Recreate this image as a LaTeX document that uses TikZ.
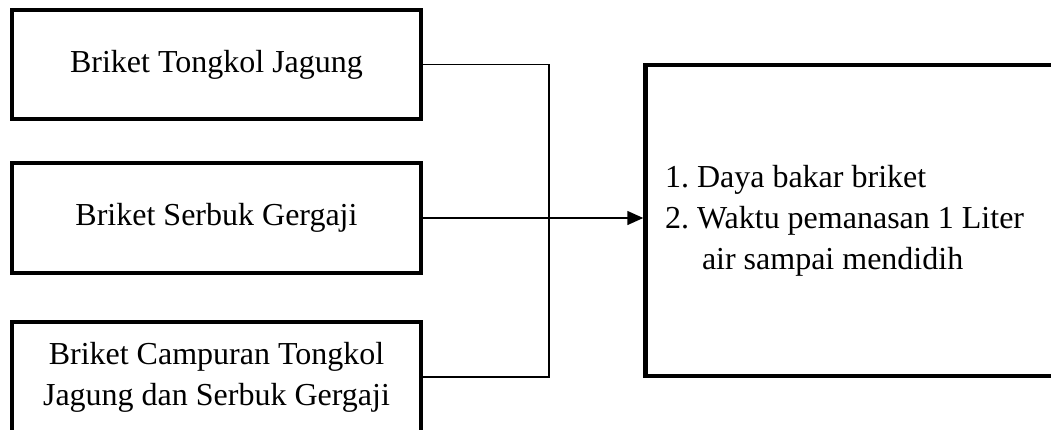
\documentclass[tikz,border=0pt]{standalone}
\usepackage{fontspec}
\setmainfont{Liberation Serif}
\usetikzlibrary{arrows.meta}
\begin{document}
\begin{tikzpicture}[x=1pt,y=-1pt,
  box/.style={draw, line width=4.5pt, rectangle, minimum width=409pt, minimum height=109pt, inner sep=0pt, align=center, font=\fontsize{32}{41}\selectfont\frenchspacing},
  conn/.style={line width=1.5pt},
  arr/.style={line width=1.5pt, -{Triangle[length=16pt,width=14pt]}}]
\clip (0,0) rectangle (1051,429);
\fill[white] (0,0) rectangle (1051,429);
\node[box] (b1) at (216.5,64.5) {Briket Tongkol Jagung};
\node[box, minimum height=110pt] (b2) at (216.5,218) {Briket Serbuk Gergaji};
\node[box, minimum height=110pt] (b3) at (216.5,377) {Briket Campuran Tongkol\\Jagung dan Serbuk Gergaji};
\node[draw, line width=4.5pt, rectangle, minimum height=311pt, minimum width=414.5pt, inner xsep=19.5pt, inner ysep=0pt, font=\fontsize{32}{41}\selectfont\frenchspacing] (out) at (852.75,220.5)
  {\makebox[375.5pt][l]{\begin{tabular}{@{}l@{}}1. Daya bakar briket\\2. Waktu pemanasan 1 Liter\\\hspace*{37pt}air sampai mendidih\end{tabular}}};
\coordinate (j) at (549,0);
\draw[conn] (b1.east) -- (b1.east -| j) -- (b3.east -| j) -- (b3.east);
\draw[arr] (b2.east) -- (b2.east -| out.west);
\end{tikzpicture}
\end{document}
